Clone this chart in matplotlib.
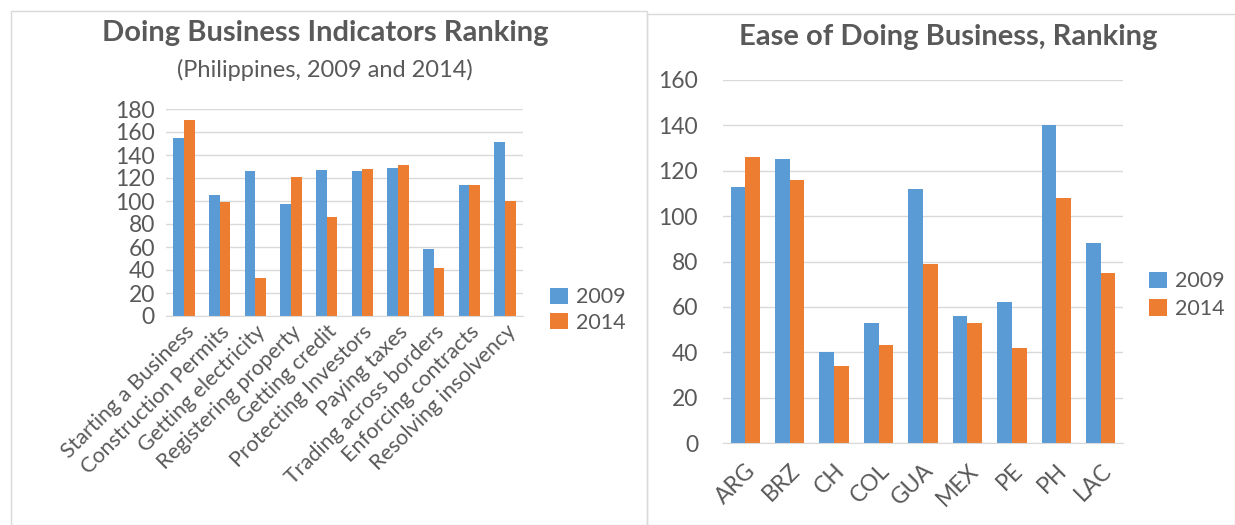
import matplotlib.pyplot as plt
import numpy as np
from matplotlib.patches import Rectangle

# Left chart: Philippines indicators
indicators = ["Starting a Business", "Construction Permits", "Getting electricity",
              "Registering property", "Getting credit", "Protecting Investors",
              "Paying taxes", "Trading across borders", "Enforcing contracts",
              "Resolving insolvency"]
ind_2009 = [155, 105, 126, 97, 127, 126, 129, 58, 114, 151]
ind_2014 = [170, 99, 33, 121, 86, 128, 131, 42, 114, 100]

# Right chart: ease of doing business by country
countries = ["ARG", "BRZ", "CH", "COL", "GUA", "MEX", "PE", "PH", "LAC"]
ease_2009 = [113, 125, 40, 53, 112, 56, 62, 140, 88]
ease_2014 = [126, 116, 34, 43, 79, 53, 42, 108, 75]

blue = "#5B9BD5"
orange = "#ED7D31"
grey = "#595959"
grid = "#D9D9D9"

plt.rcParams["font.family"] = ["Lato", "DejaVu Sans"]

W, H = 1235, 525
fig = plt.figure(figsize=(W / 100, H / 100), dpi=100)


def px_axes(x0, y0, x1, y1):
    return fig.add_axes([x0 / W, 1 - y1 / H, (x1 - x0) / W, (y1 - y0) / H])


def style(ax, size):
    for s in ["top", "right", "left"]:
        ax.spines[s].set_visible(False)
    ax.spines["bottom"].set_color(grid)
    ax.grid(axis="y", color=grid, linewidth=1)
    ax.set_axisbelow(True)
    ax.tick_params(axis="both", length=0, colors=grey, labelsize=size)


# panel borders
fig.patches.append(Rectangle((11 / W, 0), (647 - 11) / W, 1 - 11 / H,
                             transform=fig.transFigure, fill=False,
                             edgecolor="#D9D9D9", linewidth=1))
fig.patches.append(Rectangle((647 / W, 0), (W - 647) / W, 1 - 14 / H,
                             transform=fig.transFigure, fill=False,
                             edgecolor="#D9D9D9", linewidth=1))

# left chart
ax1 = px_axes(166, 109, 523, 316)
x = np.arange(len(indicators))
w = 0.3
ax1.bar(x - w / 2, ind_2009, w, color=blue, label="2009")
ax1.bar(x + w / 2, ind_2014, w, color=orange, label="2014")
ax1.set_ylim(0, 180)
ax1.set_yticks(range(0, 181, 20))
ax1.set_xlim(-0.5, len(indicators) - 0.5)
ax1.set_xticks(x)
ax1.set_xticklabels(indicators, rotation=45, ha="right", rotation_mode="anchor")
style(ax1, 16.5)
ax1.tick_params(axis="x", labelsize=15.5, pad=4)
ax1.tick_params(axis="y", pad=8)
ax1.legend(loc="center left", bbox_to_anchor=(531 / W, 1 - 310 / H),
           bbox_transform=fig.transFigure, frameon=False, fontsize=15.5,
           labelcolor=grey, handlelength=0.8, handleheight=0.8,
           handletextpad=0.4, labelspacing=0.25)
fig.text(325 / W, 1 - 33 / H, "Doing Business Indicators Ranking", ha="center",
         va="center", fontsize=21, fontweight="bold", color=grey)
fig.text(325 / W, 1 - 70 / H, "(Philippines, 2009 and 2014)", ha="center",
         va="center", fontsize=17, color=grey)

# right chart
ax2 = px_axes(723, 80, 1123, 443)
x2 = np.arange(len(countries))
w2 = 0.33
ax2.bar(x2 - w2 / 2, ease_2009, w2, color=blue, label="2009")
ax2.bar(x2 + w2 / 2, ease_2014, w2, color=orange, label="2014")
ax2.set_ylim(0, 160)
ax2.set_yticks(range(0, 161, 20))
ax2.set_xlim(-0.5, len(countries) - 0.5)
ax2.set_xticks(x2)
ax2.set_xticklabels(countries, rotation=45, ha="right", rotation_mode="anchor")
style(ax2, 16.5)
ax2.tick_params(axis="y", pad=18)
ax2.tick_params(axis="x", pad=12)
ax2.legend(loc="center left", bbox_to_anchor=(1130 / W, 1 - 295 / H),
           bbox_transform=fig.transFigure, frameon=False, fontsize=15.5,
           labelcolor=grey, handlelength=0.8, handleheight=0.8,
           handletextpad=0.4, labelspacing=0.35)
fig.text(948 / W, 1 - 37 / H, "Ease of Doing Business, Ranking", ha="center",
         va="center", fontsize=21, fontweight="bold", color=grey)

fig.savefig("out.png", dpi=100)
